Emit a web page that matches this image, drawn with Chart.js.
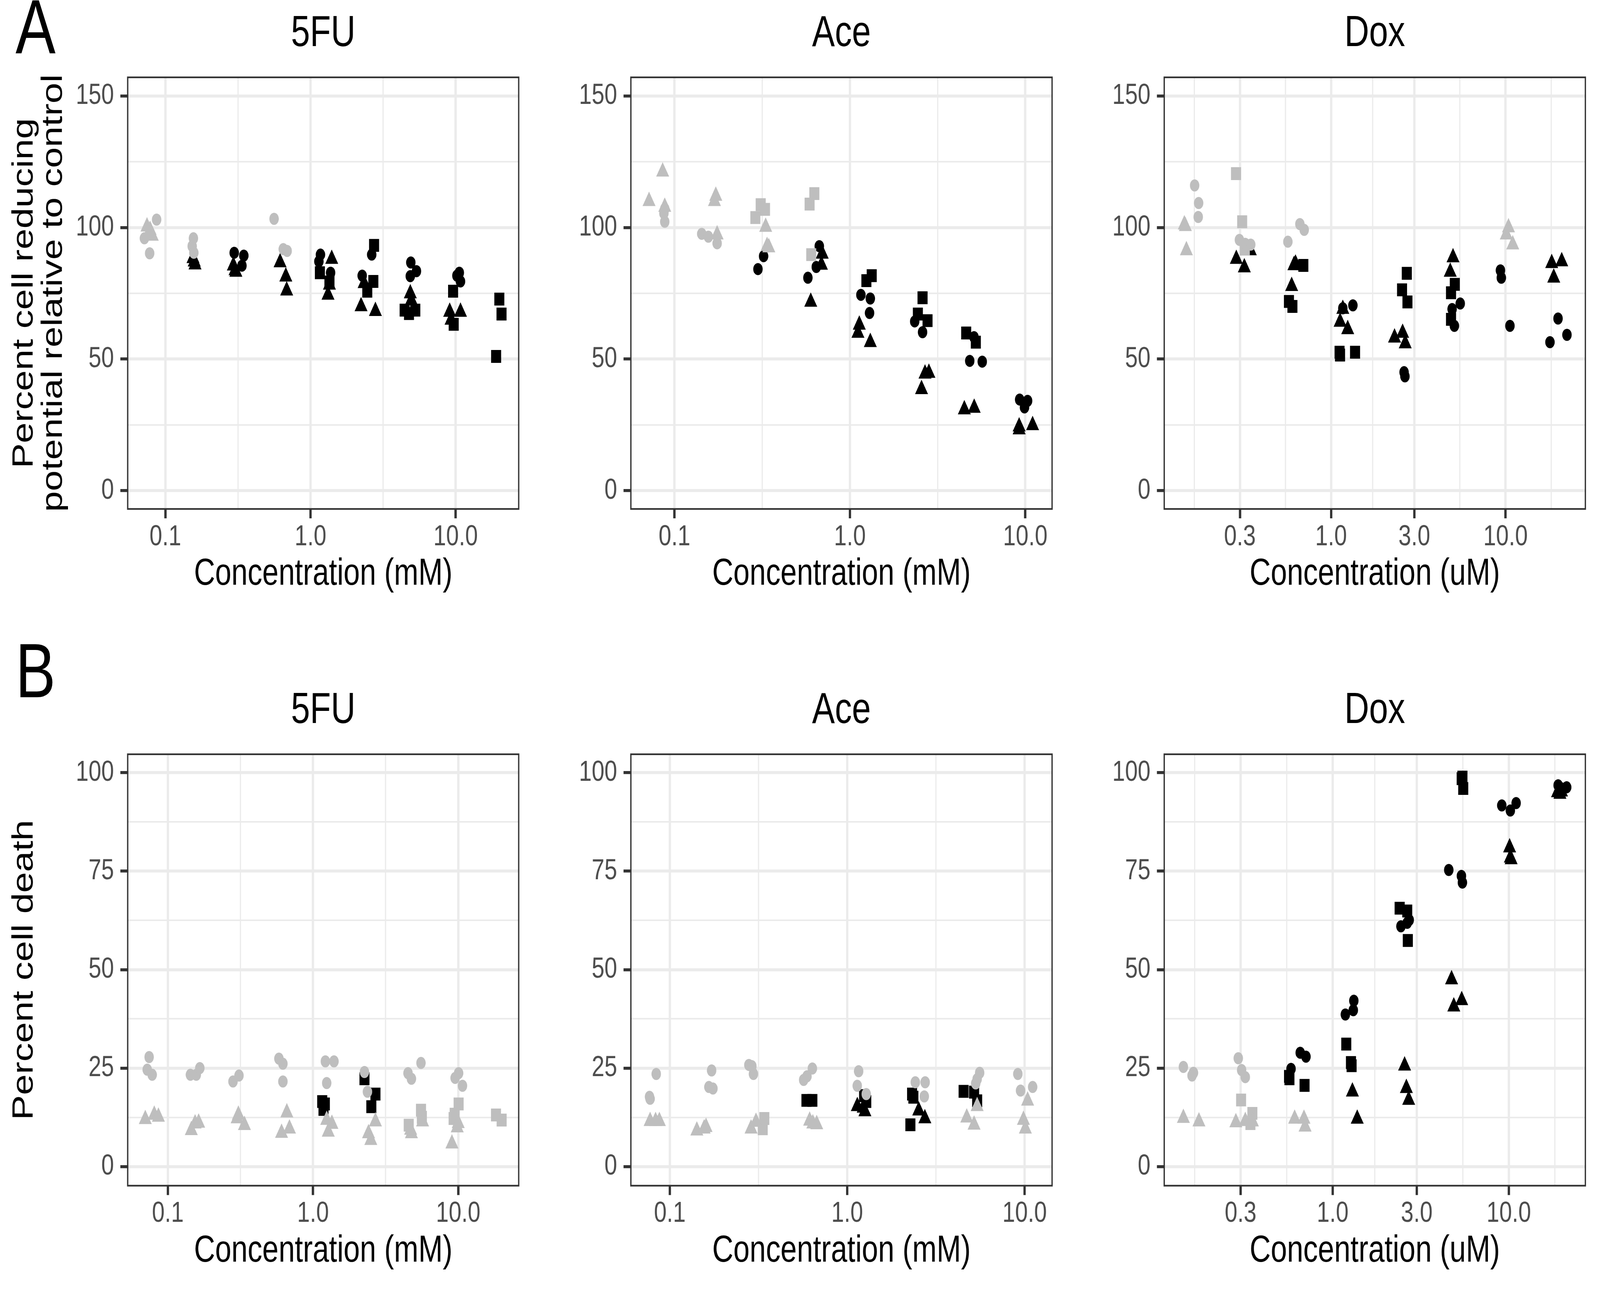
<!DOCTYPE html>
<html>
<head>
<meta charset="utf-8">
<script src="https://cdn.jsdelivr.net/npm/chart.js@4.4.1/dist/chart.umd.min.js"></script>
<style>
  html, body { margin: 0; padding: 0; background: #ffffff; overflow: hidden; }
  body { position: relative; font-family: 'Liberation Sans', Arial, sans-serif; }
  #clip { position: absolute; left: 0; top: 0; overflow: hidden; background: #fff; }
  #stage { position: absolute; left: 0; top: 0; width: 5250px; height: 3300px; transform-origin: 0 0; background: #fff; }
  canvas { position: absolute; }
  .lab { position: absolute; font-size: 197px; line-height: 1; color: #000; z-index: 5; }
</style>
</head>
<body>
<div id="clip">
<div id="stage">
<canvas id="a1" style="left:0px;top:0px"></canvas>
<canvas id="a2" style="left:1750px;top:0px"></canvas>
<canvas id="a3" style="left:3500px;top:0px"></canvas>
<canvas id="b1" style="left:0px;top:1650px"></canvas>
<canvas id="b2" style="left:1750px;top:1650px"></canvas>
<canvas id="b3" style="left:3500px;top:1650px"></canvas>
<div class="lab" style="left:51px;top:-29px">A</div>
<div class="lab" style="left:51px;top:1619px">B</div>
</div>
</div>
<script>
// ---------------- tick labels / breaks ----------------
const mMTickValues = [0.1, 1, 10];
const mMTickLabels = ['0.1', '1.0', '10.0'];
const mMMinorBreaks = [0.3162, 3.162];
const uMTickValues = [0.3, 1, 3, 10];
const uMTickLabels = ['0.3', '1.0', '3.0', '10.0'];
const uMMinorBreaks = [0.1643, 0.5477, 1.732, 5.477, 18.26];
const viabTickValues = [0, 50, 100, 150];
const viabMinorBreaks = [25, 75, 125];
const deathTickValues = [0, 25, 50, 75, 100];
const deathMinorBreaks = [12.5, 37.5, 62.5, 87.5];

// ---------------- A: percent cell reducing potential ----------------
const viab5FU_greyCircle = [[0.087,103.0],[0.0717,95.9],[0.0779,90.2],[0.156,95.9],[0.153,92.9],[0.157,90.4],[0.561,103.3],[0.649,91.8],[0.690,91.1]];
const viab5FU_greyTriangle = [[0.0747,100.3],[0.0785,99.0],[0.0812,96.8]];
const viab5FU_blackCircle = [[0.298,90.4],[0.347,89.3],[0.337,85.5],[1.171,89.7],[1.142,87.1],[1.375,82.8],[2.64,89.7],[2.27,81.7],[4.91,86.7],[5.37,83.4],[4.87,81.5],[10.2,81.7],[10.6,82.8],[10.8,79.5]];
const viab5FU_blackTriangle = [[0.155,88.3],[0.158,87.0],[0.160,85.9],[0.294,85.5],[0.302,83.7],[0.306,83.1],[0.617,86.7],[0.676,81.3],[0.685,76.0],[1.40,88.0],[1.35,78.2],[1.32,74.4],[2.34,78.8],[2.23,70.0],[2.80,68.2],[4.87,74.9],[4.95,72.3],[9.1,67.9],[10.8,67.9],[9.3,64.9]];
const viab5FU_blackSquare = [[1.16,82.8],[1.35,79.3],[2.74,93.2],[2.71,79.5],[2.46,75.8],[4.45,68.6],[5.27,68.6],[4.77,67.3],[9.6,75.8],[9.7,63.2],[20.0,72.8],[20.7,67.1],[19.0,51.0]];

const viabAce_greyCircle = [[0.088,107.1],[0.087,105.4],[0.088,102.2],[0.143,97.6],[0.156,96.5],[0.175,94.0]];
const viabAce_greyTriangle = [[0.0856,121.2],[0.0716,110.0],[0.088,107.8],[0.172,112.0],[0.169,110.0],[0.175,97.3],[0.331,100.2],[0.337,92.9],[0.345,92.4]];
const viabAce_greySquare = [[0.310,108.7],[0.328,106.9],[0.289,103.8],[0.627,112.9],[0.589,108.9],[0.602,89.7]];
const viabAce_blackCircle = [[0.322,89.1],[0.299,84.2],[0.669,92.9],[0.643,85.0],[0.576,80.9],[1.155,74.4],[1.307,73.0],[1.294,67.5],[2.34,64.3],[2.595,60.2],[5.10,58.3],[4.82,49.3],[5.68,49.0],[9.28,34.6],[10.3,34.1],[9.89,31.6]];
const viabAce_blackTriangle = [[0.695,90.0],[0.688,85.8],[0.598,71.7],[1.131,63.0],[1.111,59.9],[1.307,56.4],[2.68,44.4],[2.82,44.7],[2.56,38.5],[4.49,30.8],[5.11,31.4],[9.22,24.3],[9.22,23.2],[11.0,24.8]];
const viabAce_blackSquare = [[1.331,81.7],[1.241,79.8],[2.595,73.3],[2.44,67.1],[2.77,64.6],[4.60,59.9],[5.22,56.4]];

const viabDox_greyCircle = [[0.165,116.0],[0.174,109.3],[0.173,104.0],[0.298,95.3],[0.322,93.8],[0.346,93.5],[0.662,101.3],[0.701,99.1],[0.565,94.6]];
const viabDox_greyTriangle = [[0.144,101.1],[0.146,100.5],[0.148,91.3],[10.4,100.0],[10.1,97.3],[11.0,93.5]];
const viabDox_greySquare = [[0.285,120.5],[0.309,102.2],[0.320,91.8]];
const viabDox_blackCircle = [[1.167,69.3],[1.333,70.4],[2.62,45.0],[2.65,43.4],[5.50,71.1],[4.94,69.0],[5.09,62.6],[9.35,83.7],[9.46,80.9],[10.6,62.6],[20.0,65.4],[17.98,56.4],[22.5,59.2]];
const viabDox_blackTriangle = [[0.344,91.3],[0.286,88.0],[0.318,84.8],[0.612,85.6],[0.625,86.2],[0.594,77.7],[1.167,69.0],[1.126,64.1],[1.245,61.3],[2.31,58.1],[2.57,59.9],[2.66,55.9],[5.0,88.6],[4.82,83.1],[18.4,86.4],[21.0,87.1],[18.9,80.9]];
const viabDox_blackSquare = [[0.693,85.6],[0.573,71.9],[0.600,70.0],[1.118,52.6],[1.125,51.5],[1.372,52.6],[2.716,82.6],[2.552,76.3],[2.74,71.7],[5.12,78.4],[4.87,75.2],[4.87,65.1]];

// ---------------- B: percent cell death ----------------
const death5FU_greyCircle = [[0.0743,27.8],[0.0721,24.6],[0.0780,23.3],[0.143,23.3],[0.157,23.3],[0.166,25.0],[0.281,21.6],[0.309,23.1],[0.582,27.4],[0.620,26.1],[0.620,21.6],[1.216,26.7],[1.394,26.7],[1.242,21.2],[2.26,24.0],[2.37,19.0],[4.51,23.7],[4.76,22.3],[5.54,26.3],[10.06,23.7],[9.52,22.5],[10.7,20.5]];
const death5FU_greyTriangle = [[0.0699,12.0],[0.0806,13.1],[0.0861,12.6],[0.145,9.2],[0.154,10.9],[0.163,11.1],[0.306,13.1],[0.300,12.2],[0.337,10.5],[0.660,13.7],[0.607,8.5],[0.688,9.6],[1.242,11.8],[1.349,10.8],[1.273,8.8],[2.69,11.4],[2.41,8.4],[2.50,6.7],[5.68,11.4],[4.76,8.4],[4.70,9.3],[9.84,9.9],[9.05,5.8],[10.0,11.0]];
const death5FU_greySquare = [[5.54,14.3],[5.62,12.5],[4.56,10.5],[10.06,15.9],[9.45,13.3],[9.30,12.2],[18.2,13.1],[19.9,11.8]];
const death5FU_blackSquare = [[1.157,16.5],[1.206,15.9],[1.181,14.5],[2.26,22.3],[2.69,18.4],[2.52,15.2]];

const deathAce_greyCircle = [[0.0838,23.5],[0.0768,17.7],[0.0774,17.2],[0.172,24.4],[0.166,20.2],[0.175,19.8],[0.279,25.8],[0.296,23.5],[0.290,25.5],[0.636,24.9],[0.593,22.9],[0.568,22.0],[1.160,24.2],[1.139,20.5],[1.28,18.4],[2.42,21.4],[2.75,21.4],[2.72,17.8],[5.58,23.8],[5.40,22.2],[5.30,21.1],[9.16,23.5],[9.49,19.3],[11.1,20.2]];
const deathAce_greyTriangle = [[0.0774,11.5],[0.0831,11.5],[0.0873,11.5],[0.142,9.1],[0.160,10.0],[0.156,9.6],[0.287,9.6],[0.306,11.3],[0.614,11.6],[0.673,10.7],[0.640,10.9],[5.40,15.3],[4.72,12.4],[5.19,10.6],[10.4,16.7],[9.85,11.8],[10.1,9.6]];
const deathAce_greySquare = [[0.341,12.2],[0.334,9.6]];
const deathAce_blackTriangle = [[1.14,15.3],[1.23,14.9],[1.258,14.0],[2.53,14.2],[2.74,12.2]];
const deathAce_blackSquare = [[0.589,16.8],[0.636,16.8],[1.245,18.0],[1.28,16.5],[2.32,18.4],[2.36,17.6],[2.27,10.6],[4.53,19.1],[5.19,18.9],[5.40,16.7]];

const deathDox_greyCircle = [[0.142,25.3],[0.159,23.1],[0.162,23.8],[0.291,27.5],[0.304,24.5],[0.319,22.7]];
const deathDox_greyTriangle = [[0.142,12.3],[0.174,11.4],[0.282,11.2],[0.319,11.5],[0.350,11.4],[0.608,12.1],[0.687,12.1],[0.697,10.1]];
const deathDox_greySquare = [[0.302,16.9],[0.350,13.5],[0.341,10.9]];
const deathDox_blackCircle = [[0.580,24.8],[0.654,28.9],[0.705,27.9],[1.18,38.6],[1.318,42.1],[1.309,39.7],[2.44,61.0],[2.72,62.6],[2.65,61.9],[4.56,75.3],[5.38,73.8],[5.45,72.1],[9.12,91.7],[10.2,90.4],[11.0,92.3],[19.05,96.8],[21.3,96.3],[20.0,96.0]];
const deathDox_blackTriangle = [[1.294,19.0],[1.378,12.1],[2.56,25.6],[2.62,19.9],[2.70,16.9],[4.73,47.5],[5.40,42.2],[4.87,40.6],[10.1,81.0],[10.2,78.4],[10.3,78.0],[18.9,95.0],[19.9,95.2],[19.5,94.6]];
const deathDox_blackSquare = [[0.565,22.9],[0.568,22.3],[0.692,20.6],[1.194,31.1],[1.27,26.4],[1.28,25.6],[2.40,65.6],[2.65,64.9],[2.67,57.4],[5.45,98.9],[5.51,96.0],[5.40,98.5]];

// ---------------- page scaling: the 5250 x 3300 design grid is fitted to the whole viewport ----------------
const vw = window.innerWidth || document.documentElement.clientWidth || 5250;
const vh = window.innerHeight || document.documentElement.clientHeight || 3300;
const SX = (vw / 5250) || 1, SY = (vh / 3300) || 1;
const stage = document.getElementById('stage');
const clip = document.getElementById('clip');
stage.style.transform = 'scale(' + SX + ',' + SY + ')';
clip.style.width = vw + 'px';
clip.style.height = vh + 'px';
document.documentElement.style.width = vw + 'px';
document.documentElement.style.height = vh + 'px';
document.body.style.width = vw + 'px';
document.body.style.height = vh + 'px';
const PIXEL_RATIO = (window.devicePixelRatio || 1) * Math.max(SX, SY);

// ---------------- styling ----------------
Chart.defaults.font.family = "'Liberation Sans', Arial, sans-serif";
const GREY = '#BEBEBE', BLACK = '#000000';
const RADIUS = { circle: 15.5, triangle: 24.6, rect: 23.3 };

const framePlugin = {
  id: 'frame',
  afterDatasetsDraw(chart) {
    const { ctx, chartArea: a } = chart;
    ctx.save();
    ctx.strokeStyle = '#333333';
    ctx.lineWidth = 4.3;
    ctx.strokeRect(a.left, a.top, a.right - a.left, a.bottom - a.top);
    ctx.restore();
  }
};

const near = (a, b) => Math.abs(a - b) <= 1e-6 * Math.max(1, Math.abs(b));
const isIn = (list, v) => list.some(m => near(v, m));

function panel(id, o) {
  const cv = document.getElementById(id);
  cv.style.width = '1750px';
  cv.style.height = '1650px';
  cv.width = 1750; cv.height = 1650;
  const datasets = o.series.map(s => ({
    data: s.data.map(p => ({ x: p[0], y: p[1] })),
    pointStyle: s.shape,
    pointRadius: RADIUS[s.shape],
    pointHoverRadius: RADIUS[s.shape],
    pointBackgroundColor: s.color,
    backgroundColor: s.color,
    pointBorderWidth: 0,
    borderWidth: 0,
    showLine: false
  }));
  const row = o.row === 'A';
  new Chart(cv, {
    type: 'scatter',
    data: { datasets },
    options: {
      responsive: false, animation: false, devicePixelRatio: PIXEL_RATIO, events: [],
      layout: { padding: { left: 0, right: 48, top: 0, bottom: row ? 87 : 4.5 } },
      plugins: {
        legend: { display: false },
        tooltip: { enabled: false },
        title: {
          display: true, text: o.title, fullSize: false, color: '#000000',
          font: { size: 112, weight: 'normal', lineHeight: 1.2 },
          padding: row ? { top: 19.8, bottom: 43.8 } : { top: 103.3, bottom: 43.3 }
        }
      },
      scales: {
        x: {
          type: 'logarithmic', position: 'bottom', min: o.xMin, max: o.xMax, bounds: 'data',
          afterBuildTicks: s => { s.ticks = o.xMajor.concat(o.xMinor).sort((a, b) => a - b).map(v => ({ value: v })); },
          afterFit: s => { s.height = 260; },
          ticks: {
            autoSkip: false, maxRotation: 0, minRotation: 0, padding: 3, color: '#4D4D4D',
            font: { size: 75, lineHeight: 1.2 },
            callback: v => { const i = o.xMajor.findIndex(m => near(v, m)); return i >= 0 ? o.xLabels[i] : ''; }
          },
          grid: {
            color: '#EBEBEB',
            lineWidth: c => (c.tick && isIn(o.xMajor, c.tick.value)) ? 7.7 : 3.9,
            drawTicks: true, tickLength: 24, tickWidth: 7.7,
            tickColor: c => (c.tick && isIn(o.xMajor, c.tick.value)) ? '#333333' : 'rgba(0,0,0,0)'
          },
          border: { display: false },
          title: { display: true, text: o.xTitle, color: '#000000', font: { size: 96, lineHeight: 1.2 }, padding: { top: 0, bottom: 34.4 } }
        },
        y: {
          type: 'linear', position: 'left', min: o.yMin, max: o.yMax, bounds: 'data',
          afterBuildTicks: s => { s.ticks = o.yMajor.concat(o.yMinor).sort((a, b) => a - b).map(v => ({ value: v })); },
          afterFit: s => { s.width = o.yTitle ? 419 : 320; },
          ticks: {
            autoSkip: false, padding: 21, color: '#4D4D4D',
            font: { size: 75, lineHeight: 1.2 },
            callback: v => isIn(o.yMajor, v) ? String(v) : ''
          },
          grid: {
            color: '#EBEBEB',
            lineWidth: c => (c.tick && isIn(o.yMajor, c.tick.value)) ? 7.7 : 3.9,
            drawTicks: true, tickLength: 24, tickWidth: 7.7,
            tickColor: c => (c.tick && isIn(o.yMajor, c.tick.value)) ? '#333333' : 'rgba(0,0,0,0)'
          },
          border: { display: false },
          title: o.yTitle
            ? { display: true, text: o.yTitle, color: '#000000', font: { size: 96, lineHeight: 1.0 }, padding: { top: 33, bottom: 0 } }
            : { display: false }
        }
      }
    },
    plugins: [framePlugin]
  });
}

const ser = (data, shape, color) => ({ data, shape, color });
const viabY = { yMin: -7.0, yMax: 157.1, yMajor: viabTickValues, yMinor: viabMinorBreaks };
const deathY = { yMin: -4.86, yMax: 104.69, yMajor: deathTickValues, yMinor: deathMinorBreaks };
const mMX = { xMajor: mMTickValues, xLabels: mMTickLabels, xMinor: mMMinorBreaks, xTitle: 'Concentration (mM)' };
const uMX = { xMajor: uMTickValues, xLabels: uMTickLabels, xMinor: uMMinorBreaks, xTitle: 'Concentration (uM)' };

panel('a1', Object.assign({ row: 'A', title: '5FU', xMin: 0.0550, xMax: 27.2,
  yTitle: ['Percent cell reducing', 'potential relative to control'],
  series: [ser(viab5FU_greyCircle, 'circle', GREY), ser(viab5FU_greyTriangle, 'triangle', GREY),
           ser(viab5FU_blackCircle, 'circle', BLACK), ser(viab5FU_blackTriangle, 'triangle', BLACK), ser(viab5FU_blackSquare, 'rect', BLACK)]
}, mMX, viabY));
panel('a2', Object.assign({ row: 'A', title: 'Ace', xMin: 0.0564, xMax: 14.2,
  series: [ser(viabAce_greyCircle, 'circle', GREY), ser(viabAce_greyTriangle, 'triangle', GREY), ser(viabAce_greySquare, 'rect', GREY),
           ser(viabAce_blackCircle, 'circle', BLACK), ser(viabAce_blackTriangle, 'triangle', BLACK), ser(viabAce_blackSquare, 'rect', BLACK)]
}, mMX, viabY));
panel('a3', Object.assign({ row: 'A', title: 'Dox', xMin: 0.1104, xMax: 28.7,
  series: [ser(viabDox_greyCircle, 'circle', GREY), ser(viabDox_greyTriangle, 'triangle', GREY), ser(viabDox_greySquare, 'rect', GREY),
           ser(viabDox_blackCircle, 'circle', BLACK), ser(viabDox_blackTriangle, 'triangle', BLACK), ser(viabDox_blackSquare, 'rect', BLACK)]
}, uMX, viabY));
panel('b1', Object.assign({ row: 'B', title: '5FU', xMin: 0.0529, xMax: 26.1,
  yTitle: 'Percent cell death',
  series: [ser(death5FU_greyCircle, 'circle', GREY), ser(death5FU_greyTriangle, 'triangle', GREY), ser(death5FU_greySquare, 'rect', GREY),
           ser(death5FU_blackSquare, 'rect', BLACK)]
}, mMX, deathY));
panel('b2', Object.assign({ row: 'B', title: 'Ace', xMin: 0.0603, xMax: 14.28,
  series: [ser(deathAce_greyCircle, 'circle', GREY), ser(deathAce_greyTriangle, 'triangle', GREY), ser(deathAce_greySquare, 'rect', GREY),
           ser(deathAce_blackTriangle, 'triangle', BLACK), ser(deathAce_blackSquare, 'rect', BLACK)]
}, mMX, deathY));
panel('b3', Object.assign({ row: 'B', title: 'Dox', xMin: 0.1105, xMax: 27.2,
  series: [ser(deathDox_greyCircle, 'circle', GREY), ser(deathDox_greyTriangle, 'triangle', GREY), ser(deathDox_greySquare, 'rect', GREY),
           ser(deathDox_blackCircle, 'circle', BLACK), ser(deathDox_blackTriangle, 'triangle', BLACK), ser(deathDox_blackSquare, 'rect', BLACK)]
}, uMX, deathY));
</script>
</body>
</html>
